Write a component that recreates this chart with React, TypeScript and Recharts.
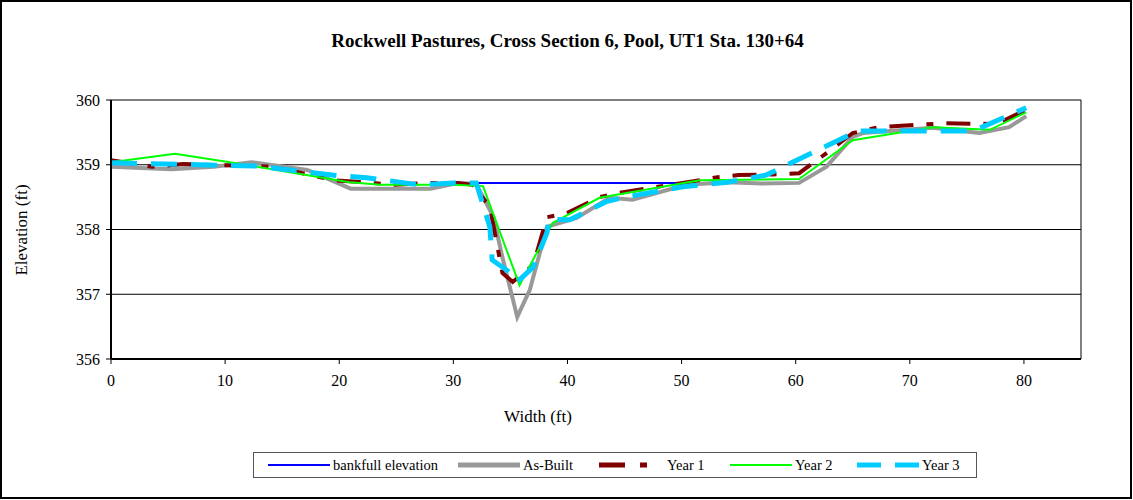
import { LineChart, Line, XAxis, YAxis, CartesianGrid } from 'recharts'

// 断面测量数据：x = 宽度 (ft)，y = 高程 (ft)
const bankfull = [
  { x: 29, y: 358.72 },
  { x: 50, y: 358.72 },
]

const asBuilt = [
  { x: 0, y: 358.97 }, { x: 5.3, y: 358.93 }, { x: 9, y: 358.97 }, { x: 12.3, y: 359.04 },
  { x: 17.2, y: 358.92 }, { x: 21, y: 358.63 }, { x: 24, y: 358.63 }, { x: 28, y: 358.63 },
  { x: 30.5, y: 358.72 }, { x: 32, y: 358.7 }, { x: 33.5, y: 358.2 }, { x: 34.3, y: 357.57 },
  { x: 35.6, y: 356.65 }, { x: 36.7, y: 357.07 }, { x: 38.2, y: 358.04 }, { x: 40.8, y: 358.18 },
  { x: 43.7, y: 358.49 }, { x: 45.7, y: 358.46 }, { x: 50.4, y: 358.69 }, { x: 54, y: 358.73 },
  { x: 57, y: 358.71 }, { x: 60.3, y: 358.72 }, { x: 62.7, y: 358.97 }, { x: 65, y: 359.43 },
  { x: 65.9, y: 359.49 }, { x: 72, y: 359.57 }, { x: 76.1, y: 359.49 }, { x: 78.7, y: 359.58 },
  { x: 80.2, y: 359.75 },
]

const year1 = [
  { x: 0, y: 359.07 }, { x: 3.6, y: 358.97 }, { x: 6.3, y: 359.01 }, { x: 14.2, y: 358.97 },
  { x: 19.5, y: 358.76 }, { x: 22.4, y: 358.73 }, { x: 24.7, y: 358.69 }, { x: 28, y: 358.72 },
  { x: 30.3, y: 358.72 }, { x: 31.7, y: 358.69 }, { x: 33.2, y: 358.35 }, { x: 34.3, y: 357.33 },
  { x: 35.2, y: 357.19 }, { x: 37, y: 357.45 }, { x: 38.2, y: 358.19 }, { x: 39.9, y: 358.25 },
  { x: 42.8, y: 358.5 }, { x: 44.3, y: 358.56 }, { x: 47.2, y: 358.64 }, { x: 53.3, y: 358.81 },
  { x: 55, y: 358.84 }, { x: 58, y: 358.85 }, { x: 60.3, y: 358.87 }, { x: 62.7, y: 359.18 },
  { x: 65, y: 359.49 }, { x: 67.3, y: 359.58 }, { x: 72.9, y: 359.64 }, { x: 77.6, y: 359.63 },
  { x: 80.2, y: 359.85 },
]

const year2 = [
  { x: 0, y: 359.04 }, { x: 5.6, y: 359.17 }, { x: 10.7, y: 359.03 }, { x: 20.9, y: 358.73 },
  { x: 23.6, y: 358.69 }, { x: 30, y: 358.69 }, { x: 32.6, y: 358.67 }, { x: 35.8, y: 357.14 },
  { x: 38.7, y: 358.1 }, { x: 41, y: 358.32 }, { x: 42.8, y: 358.49 }, { x: 51.6, y: 358.76 },
  { x: 60.3, y: 358.78 }, { x: 65, y: 359.38 }, { x: 72, y: 359.58 }, { x: 77, y: 359.54 },
  { x: 80.2, y: 359.81 },
]

const year3 = [
  { x: 0, y: 359.03 }, { x: 12.8, y: 358.98 }, { x: 19.9, y: 358.83 }, { x: 22.4, y: 358.8 },
  { x: 27, y: 358.69 }, { x: 30, y: 358.72 }, { x: 32, y: 358.72 }, { x: 33.2, y: 358.04 },
  { x: 33.4, y: 357.53 }, { x: 34.7, y: 357.37 }, { x: 35.6, y: 357.19 }, { x: 37, y: 357.42 },
  { x: 38.2, y: 357.95 }, { x: 38.4, y: 358.16 }, { x: 40.2, y: 358.15 }, { x: 43.4, y: 358.43 },
  { x: 44.8, y: 358.49 }, { x: 50.1, y: 358.66 }, { x: 54, y: 358.73 }, { x: 57.4, y: 358.84 },
  { x: 65.4, y: 359.52 }, { x: 74.6, y: 359.52 }, { x: 75.8, y: 359.54 }, { x: 80.2, y: 359.88 },
]

const xTicks = [0, 10, 20, 30, 40, 50, 60, 70, 80]
const yTicks = [356, 357, 358, 359, 360]

const FONT = '"Liberation Serif", "Times New Roman", serif'

// 图例：线型与正文一致，left 是图例条目的起点
const legendItems = [
  { label: 'bankfull elevation', color: '#0000ff', width: 2, dash: undefined as string | undefined, left: 14, len: 62 },
  { label: 'As-Built', color: '#999999', width: 5, dash: undefined, left: 204, len: 62 },
  { label: 'Year 1', color: '#800000', width: 5, dash: '26 15 7 100', left: 345, len: 52 },
  { label: 'Year 2', color: '#00ff00', width: 2, dash: undefined, left: 476, len: 62 },
  { label: 'Year 3', color: '#00ccff', width: 5, dash: '24 14', left: 603, len: 62 },
]

export default function App() {
  const tickStyle = { fontSize: 16, fill: '#000', fontFamily: FONT }
  return (
    <div style={{ position: 'fixed', left: 0, top: 0, width: 1133, height: 500, background: '#fff', fontFamily: FONT }}>
      <div style={{ position: 'absolute', left: 0, top: 0, width: 1132, height: 499, border: '2px solid #000', boxSizing: 'border-box' }} />
      <div style={{ position: 'absolute', left: 0, top: 30, width: 1135, textAlign: 'center', fontWeight: 'bold', fontSize: 19 }}>
        Rockwell Pastures, Cross Section 6, Pool, UT1 Sta. 130+64
      </div>
      <div style={{ position: 'absolute', left: 22, top: 230, transform: 'translate(-50%, -50%) rotate(-90deg)', fontSize: 17, whiteSpace: 'nowrap' }}>
        Elevation (ft)
      </div>
      <div style={{ position: 'absolute', left: 538, top: 417, transform: 'translate(-50%, -50%)', fontSize: 17, whiteSpace: 'nowrap' }}>
        Width (ft)
      </div>

      <div style={{ position: 'absolute', left: 0, top: 0 }}>
        <LineChart width={1133} height={500} margin={{ top: 100, right: 52, bottom: 111, left: 61 }}>
          <CartesianGrid
            horizontal
            vertical
            verticalCoordinatesGenerator={({ offset }: any) => [offset.left + offset.width]}
            stroke="#000"
            strokeWidth={1}
          />
          <XAxis
            dataKey="x"
            type="number"
            domain={[0, 85]}
            ticks={xTicks}
            allowDuplicatedCategory={false}
            height={30}
            tick={tickStyle}
            tickSize={5}
            tickMargin={11}
            stroke="#000"
            axisLine={{ stroke: '#000', strokeWidth: 2 }}
          />
          <YAxis
            dataKey="y"
            type="number"
            domain={[356, 360]}
            ticks={yTicks}
            width={50}
            tick={tickStyle}
            tickSize={5}
            tickMargin={6}
            stroke="#000"
            axisLine={{ stroke: '#000', strokeWidth: 2 }}
          />
          <Line data={bankfull} dataKey="y" stroke="#0000ff" strokeWidth={2} dot={false} isAnimationActive={false} />
          <Line data={asBuilt} dataKey="y" stroke="#999999" strokeWidth={4} dot={false} isAnimationActive={false} />
          <Line data={year1} dataKey="y" stroke="#800000" strokeWidth={4} strokeDasharray="24 13 7 13" dot={false} isAnimationActive={false} />
          <Line data={year2} dataKey="y" stroke="#00ff00" strokeWidth={2} dot={false} isAnimationActive={false} />
          <Line data={year3} dataKey="y" stroke="#00ccff" strokeWidth={5} strokeDasharray="26 14" dot={false} isAnimationActive={false} />
        </LineChart>
      </div>

      <div style={{ position: 'absolute', left: 253, top: 452, width: 724, height: 26, border: '1px solid #555', boxSizing: 'border-box', fontSize: 14.5 }}>
        {legendItems.map(item => (
          <div key={item.label} style={{ position: 'absolute', left: item.left, top: 0, height: 24, display: 'flex', alignItems: 'center', whiteSpace: 'nowrap' }}>
            <svg width={item.len} height={10} style={{ marginRight: item.label === 'Year 1' ? 16 : 3 }}>
              <line x1={0} y1={5} x2={item.len} y2={5} stroke={item.color} strokeWidth={item.width} strokeDasharray={item.dash} />
            </svg>
            <span>{item.label}</span>
          </div>
        ))}
      </div>
    </div>
  )
}
